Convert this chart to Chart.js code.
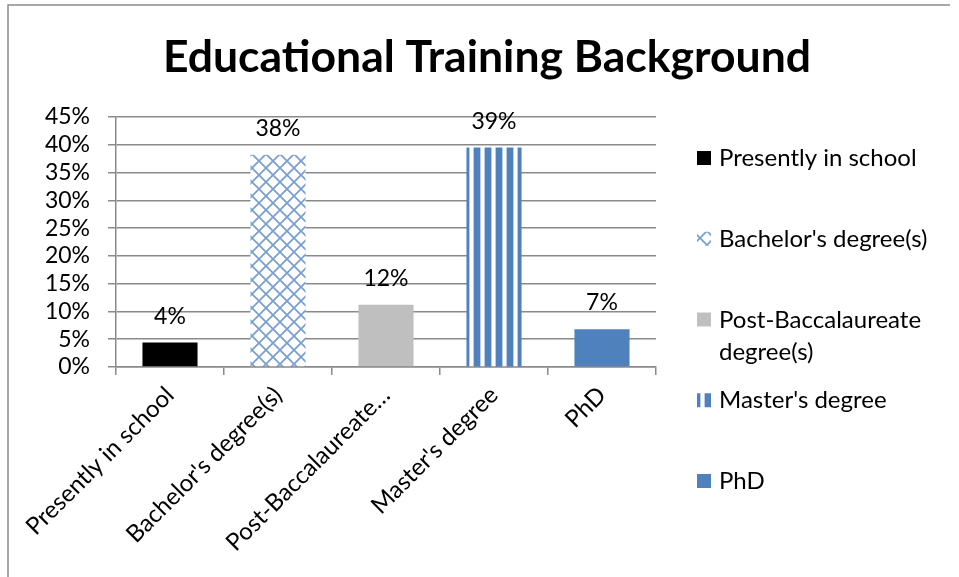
<!DOCTYPE html>
<html>
<head>
<meta charset="utf-8">
<title>Educational Training Background</title>
<script src="https://cdn.jsdelivr.net/npm/chart.js@4.4.1/dist/chart.umd.min.js"></script>
<style>
  html, body { margin: 0; padding: 0; background: #fff; }
  #wrap { width: 959px; height: 577px; }
</style>
</head>
<body>
<div id="wrap"><canvas id="eduChart" width="959" height="577"></canvas></div>
<script>
const TITLE = 'Educational Training Background';
const categories = ['Presently in school', "Bachelor's degree(s)", 'Post-Baccalaureate degree(s)', "Master's degree", 'PhD'];
const tickLabels = ['Presently in school', "Bachelor's degree(s)", 'Post-Baccalaureate\u2026', "Master's degree", 'PhD'];
const shares = [4.4, 38.2, 11.2, 39.5, 6.8];          // bar heights, % of respondents
const shareLabels = ['4%', '38%', '12%', '39%', '7%']; // printed above the bars
const yMax = 45;
const yStep = 5;

const FONT = 'Lato';
const GRID = '#8a8a8a';
const BLUE = '#4f81bd';

// diamond lattice used for the Bachelor's bar
function latticePattern() {
    const c = document.createElement('canvas');
    c.width = 14; c.height = 14;
    const g = c.getContext('2d');
    g.fillStyle = '#fff';
    g.fillRect(0, 0, 14, 14);
    g.strokeStyle = '#7aa0d3';
    g.lineWidth = 1.8;
    g.beginPath();
    g.moveTo(-1, -1); g.lineTo(15, 15);
    g.moveTo(15, -1); g.lineTo(-1, 15);
    g.stroke();
    return g.createPattern(c, 'repeat');
}

// vertical stripes used for the Master's bar
function stripePattern() {
    const c = document.createElement('canvas');
    c.width = 11; c.height = 4;
    const g = c.getContext('2d');
    g.fillStyle = '#fff';
    g.fillRect(0, 0, 11, 4);
    g.fillStyle = '#b9cde6';
    g.fillRect(0, 0, 1, 4);
    g.fillRect(7, 0, 1, 4);
    g.fillStyle = BLUE;
    g.fillRect(1, 0, 6, 4);
    return g.createPattern(c, 'repeat');
}

const ctx = document.getElementById('eduChart').getContext('2d');
const fills = ['#000000', latticePattern(), '#bfbfbf', stripePattern(), BLUE];

function wrapText(g, text, maxWidth) {
    const words = text.split(' ');
    const lines = [];
    let line = '';
    words.forEach(w => {
        const test = line ? line + ' ' + w : w;
        if (g.measureText(test).width > maxWidth && line) {
            lines.push(line);
            line = w;
        } else {
            line = test;
        }
    });
    if (line) lines.push(line);
    return lines;
}

const decor = {
    id: 'decor',
    afterDraw(chart) {
        const g = chart.ctx;
        const meta = chart.getDatasetMeta(0);
        g.save();

        // frame (left and top edges visible)
        g.strokeStyle = '#8c8c8c';
        g.lineWidth = 1.5;
        g.beginPath();
        g.moveTo(8, 580); g.lineTo(8, 5); g.lineTo(950, 5);
        g.stroke();

        // title
        g.fillStyle = '#000';
        g.font = 'bold 44.5px ' + FONT;
        g.textAlign = 'center';
        g.textBaseline = 'alphabetic';
        g.fillText(TITLE, 487, 72);

        // value labels
        g.font = '23px ' + FONT;
        meta.data.forEach((bar, i) => {
            g.fillText(shareLabels[i], bar.x, bar.y - 19);
        });

        // legend
        g.textAlign = 'left';
        g.font = '24px ' + FONT;
        categories.forEach((name, i) => {
            const y = 158 + 80.75 * i;
            g.fillStyle = fills[i];
            g.fillRect(697, y - 7, 14, 14);
            g.fillStyle = '#000';
            wrapText(g, name, 232).forEach((ln, k) => {
                g.fillText(ln, 719, y + 8 + k * 32);
            });
        });
        g.restore();
    }
};

new Chart(ctx, {
    type: 'bar',
    data: {
        labels: tickLabels,
        datasets: [{
            data: shares,
            backgroundColor: fills,
            borderWidth: 0,
            categoryPercentage: 1,
            barPercentage: 0.51
        }]
    },
    options: {
        responsive: false,
        animation: false,
        layout: { padding: { left: 10, top: 117, right: 303, bottom: 0 } },
        plugins: {
            legend: { display: false },
            title: { display: false },
            tooltip: { enabled: false }
        },
        scales: {
            x: {
                afterFit(scale) { scale.height = 210; },
                border: { color: GRID, width: 1.5 },
                grid: { drawOnChartArea: false, drawTicks: true, tickLength: 8, color: GRID, lineWidth: 1.5 },
                ticks: {
                    autoSkip: false,
                    minRotation: 45,
                    maxRotation: 45,
                    padding: 6,
                    color: '#000',
                    font: { family: FONT, size: 24 }
                }
            },
            y: {
                min: 0,
                max: yMax,
                afterFit(scale) { scale.width = 106; },
                border: { color: GRID, width: 1.5 },
                grid: { color: GRID, lineWidth: 1.5, tickLength: 8 },
                ticks: {
                    stepSize: yStep,
                    autoSkip: false,
                    padding: 18,
                    color: '#000',
                    font: { family: FONT, size: 23 },
                    callback: v => v + '%'
                }
            }
        }
    },
    plugins: [decor]
});
</script>
</body>
</html>
